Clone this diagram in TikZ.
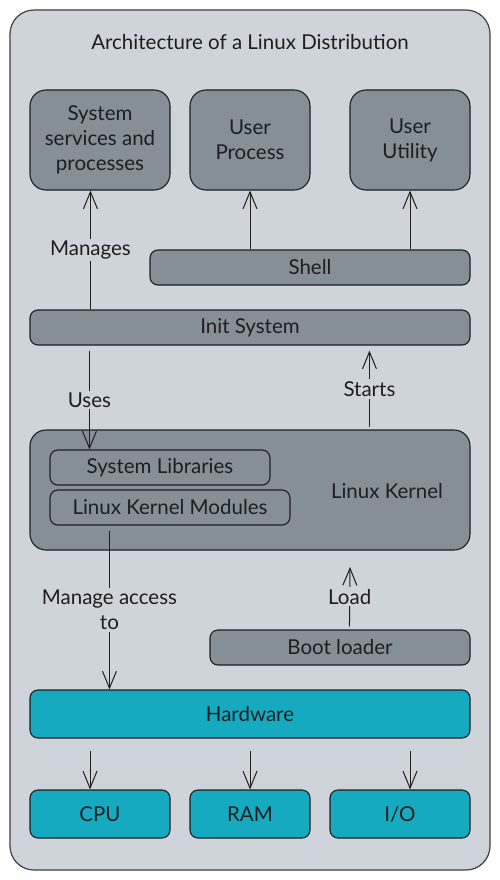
\documentclass[tikz,border=0pt]{standalone}
\usepackage{fontspec}
\setmainfont{Lato}
\usepackage{xcolor}
\usepackage{tikz}
\usetikzlibrary{arrows.meta,positioning}

\definecolor{framefill}{HTML}{CED4DA}
\definecolor{boxgray}{HTML}{868E96}
\definecolor{hwcyan}{HTML}{15AABF}
\definecolor{ink}{HTML}{1E1E1E}

\begin{document}
\begin{tikzpicture}[
  x=1pt, y=-1pt,
  txt/.style={font=\fontsize{20.5}{25}\selectfont, text=ink, align=center},
  frame/.style={draw=ink!85, line width=1.2pt, rounded corners=24pt,
    fill=framefill, minimum width=480pt, minimum height=860pt},
  box/.style={txt, draw=ink, line width=1.1pt, rounded corners=8pt,
    fill=boxgray, inner sep=0pt},
  bigbox/.style={box, rounded corners=16pt},
  hwbox/.style={box, fill=hwcyan},
  arr/.style={-{Straight Barb[length=17pt, width=14pt]}, line width=1pt, draw=ink},
  lbl/.style={txt, fill=framefill, inner sep=2pt},
]
\useasboundingbox (0,0) rectangle (500,880);

\node[frame] (frame) at (250,440) {};
\node[txt] (title) at (250,42) {Architecture of a Linux Distribution};

% Top row
\node[bigbox, minimum width=140pt, minimum height=100pt] (sys) at (100,140)
  {System\\services and\\processes};
\node[bigbox, minimum width=120pt, minimum height=100pt] (proc) at (250,140)
  {User\\Process};
\node[bigbox, minimum width=120pt, minimum height=100pt] (util) at (410,140)
  {User\\Utility};

\node[box, minimum width=320pt, minimum height=35pt] (shell) at (310,267.5) {Shell};
\node[box, minimum width=440pt, minimum height=35pt] (init) at (250,327.5) {Init System};

% Kernel
\node[bigbox, minimum width=440pt, minimum height=120pt] (kernel) at (250,490) {};
\node[txt] (klabel) at (387,491) {Linux Kernel};
\node[box, minimum width=220pt, minimum height=35pt] (syslib) at (160,467.5)
  {System Libraries};
\node[box, minimum width=240pt, minimum height=35pt] (kmod) at (170,507.5)
  {Linux Kernel Modules};

\node[box, minimum width=260pt, minimum height=35pt] (boot) at (340,647.5) {Boot loader};
\coordinate (loadend) at (350,567);

% Hardware
\node[hwbox, minimum width=440pt, minimum height=48pt] (hw) at (250,714) {Hardware};
\node[hwbox, minimum width=140pt, minimum height=48pt] (cpu) at (100,814) {CPU};
\node[hwbox, minimum width=120pt, minimum height=48pt] (ram) at (250,814) {RAM};
\node[hwbox, minimum width=140pt, minimum height=48pt] (io) at (400,814) {I/O};

\draw[arr] ([xshift=61pt]init.north west) -- ([xshift=61pt]sys.south west)
  node[midway, lbl] {Manages};
\draw[arr] (shell.north -| proc.south) -- (proc.south);
\draw[arr] (shell.north -| util.south) -- (util.south);
\draw[arr] ([xshift=60pt, yshift=-5pt]init.south west) -- ([xshift=40pt]syslib.north west)
  node[midway, lbl] {Uses};
\draw[arr] ([xshift=340pt, yshift=2pt]kernel.north west) -- ([xshift=340pt, yshift=-5pt]init.south west)
  node[midway, lbl] {Starts};
\draw[arr] ([xshift=60pt, yshift=-5pt]kmod.south west) -- ([xshift=80pt]hw.north west)
  node[midway, lbl] {Manage access\\to};
\draw[arr] ([xshift=140pt, yshift=3pt]boot.north west) -- (loadend)
  node[midway, lbl] {Load};
\draw[arr] ([xshift=-10pt, yshift=-12pt]hw.south -| cpu.north) -- ([xshift=-10pt]cpu.north);
\draw[arr] ([yshift=-12pt]hw.south -| ram.north) -- (ram.north);
\draw[arr] ([xshift=10pt, yshift=-12pt]hw.south -| io.north) -- ([xshift=10pt]io.north);

\end{tikzpicture}
\end{document}
